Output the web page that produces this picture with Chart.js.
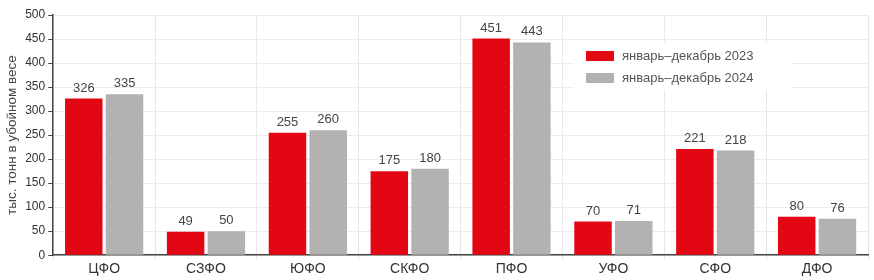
<!DOCTYPE html>
<html>
<head>
<meta charset="utf-8">
<script src="https://cdn.jsdelivr.net/npm/chart.js@4/dist/chart.umd.min.js"></script>
<style>
  html, body { margin: 0; padding: 0; background: #fff; }
  #wrap { width: 874px; height: 280px; }
</style>
</head>
<body>
<div id="wrap"><canvas id="barChart" width="874" height="280"></canvas></div>
<script>
const regions = ['ЦФО', 'СЗФО', 'ЮФО', 'СКФО', 'ПФО', 'УФО', 'СФО', 'ДФО'];
const values2023 = [326, 49, 255, 175, 451, 70, 221, 80];
const values2024 = [335, 50, 260, 180, 443, 71, 218, 76];
const seriesNames = ['январь–декабрь 2023', 'январь–декабрь 2024'];
const seriesColors = ['#e30613', '#b2b2b2'];

const FONT = "'Liberation Sans', Arial, sans-serif";

// value labels above bars
const valueLabels = {
    id: 'valueLabels',
    afterDatasetsDraw(chart) {
        const ctx = chart.ctx;
        ctx.save();
        ctx.font = '13px ' + FONT;
        ctx.fillStyle = '#444';
        ctx.textAlign = 'center';
        ctx.textBaseline = 'bottom';
        chart.data.datasets.forEach((ds, i) => {
            chart.getDatasetMeta(i).data.forEach((bar, j) => {
                ctx.fillText(ds.data[j], bar.x, bar.y - 4);
            });
        });
        ctx.restore();
    }
};

// legend box inside the plot
const innerLegend = {
    id: 'innerLegend',
    afterDatasetsDraw(chart) {
        const ctx = chart.ctx;
        ctx.save();
        ctx.fillStyle = '#fff';
        ctx.fillRect(574, 42, 218, 48);
        ctx.font = '13px ' + FONT;
        ctx.textBaseline = 'middle';
        seriesNames.forEach((name, i) => {
            const y = 56 + i * 22;
            ctx.fillStyle = seriesColors[i];
            ctx.fillRect(586, y - 5, 28, 10);
            ctx.fillStyle = '#555';
            ctx.fillText(name, 622, y);
        });
        ctx.restore();
    }
};

const ctxBar = document.getElementById('barChart').getContext('2d');
const barChart = new Chart(ctxBar, {
    type: 'bar',
    data: {
        labels: regions,
        datasets: [{
            label: seriesNames[0],
            data: values2023,
            backgroundColor: seriesColors[0],
            categoryPercentage: 0.8,
            barPercentage: 0.92
        }, {
            label: seriesNames[1],
            data: values2024,
            backgroundColor: seriesColors[1],
            categoryPercentage: 0.8,
            barPercentage: 0.92
        }]
    },
    options: {
        responsive: false,
        animation: false,
        layout: { padding: { top: 15, right: 6, left: 4, bottom: 0 } },
        plugins: {
            legend: { display: false },
            tooltip: { enabled: false }
        },
        scales: {
            x: {
                grid: { color: '#e8e8e8', offset: true, tickLength: 4, tickColor: '#ddd' },
                border: { color: '#444', width: 1.5 },
                ticks: { color: '#333', font: { family: FONT, size: 14 }, padding: 2 }
            },
            y: {
                min: 0,
                max: 500,
                ticks: { stepSize: 50, color: '#333', font: { family: FONT, size: 12 }, padding: 3 },
                grid: { color: '#ececec', tickLength: 5, tickColor: '#444' },
                border: { color: '#444', width: 1.5 },
                title: {
                    display: true,
                    text: 'тыс. тонн в убойном весе',
                    color: '#444',
                    font: { family: FONT, size: 13.5 },
                    padding: { top: 0, bottom: 2 }
                }
            }
        }
    },
    plugins: [valueLabels, innerLegend]
});
</script>
</body>
</html>
